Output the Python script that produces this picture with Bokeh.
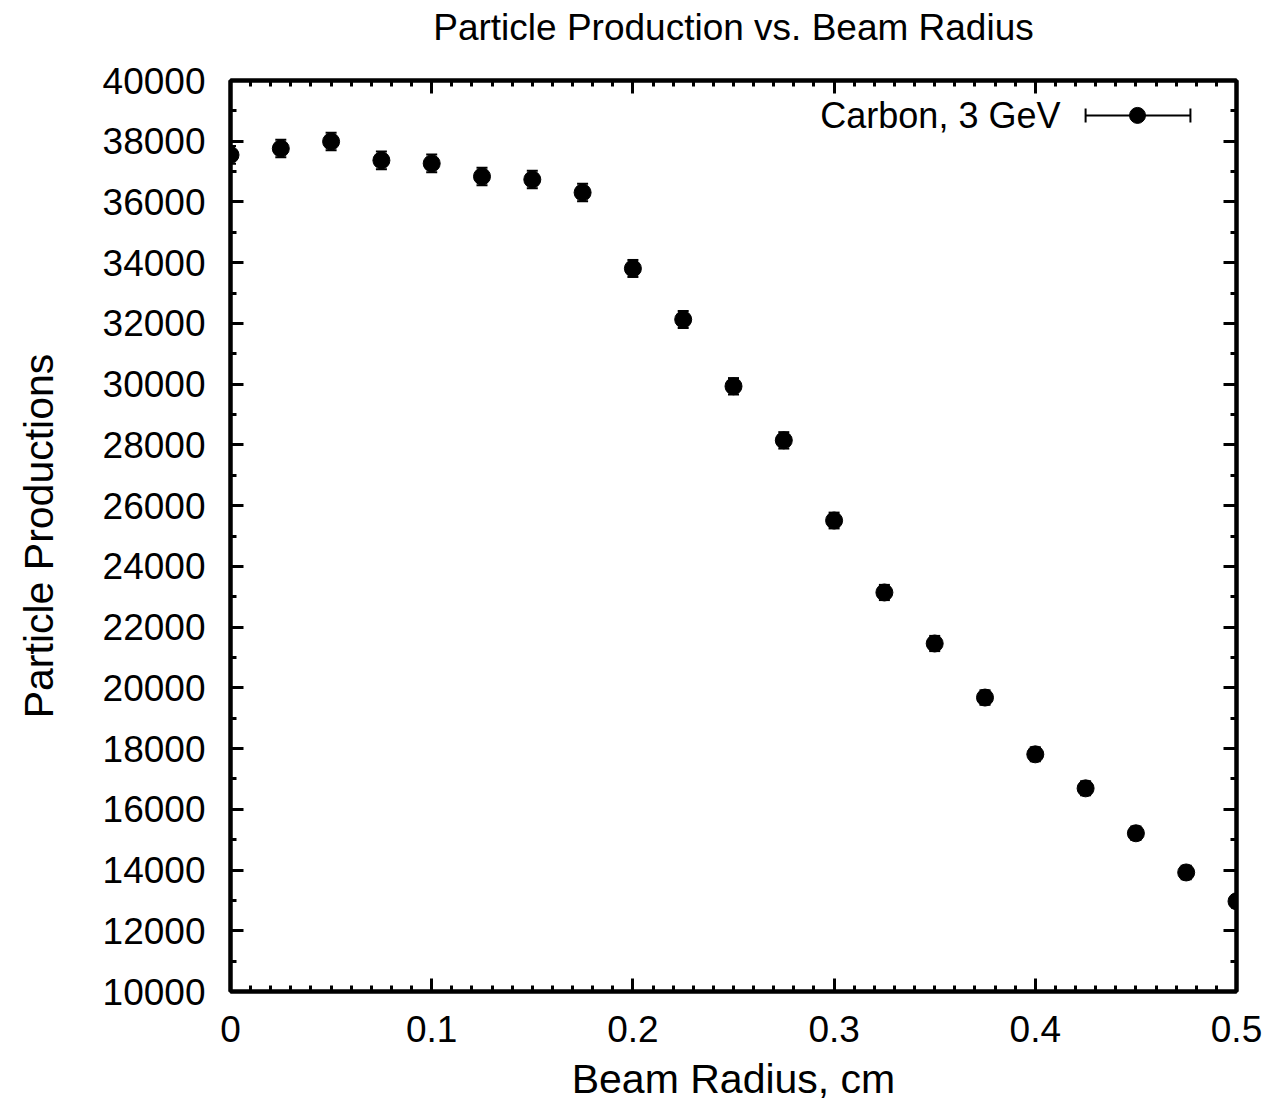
from bokeh.plotting import figure
from bokeh.models import (FixedTicker, LinearAxis, Whisker, TeeHead, ColumnDataSource,
                          Range1d, Label, CustomLabelingPolicy)
from bokeh.embed import file_html
from bokeh.resources import INLINE

# ---- data ----
radius = [0.0, 0.025, 0.05, 0.075, 0.1, 0.125, 0.15, 0.175, 0.2, 0.225, 0.25,
          0.275, 0.3, 0.325, 0.35, 0.375, 0.4, 0.425, 0.45, 0.475, 0.5]
production = [37550, 37760, 37990, 37370, 37270, 36840, 36740, 36310, 33810, 32130, 29930,
              28150, 25510, 23140, 21460, 19680, 17810, 16690, 15210, 13920, 12970]
error = [290, 290, 290, 290, 290, 290, 290, 290, 280, 280, 270,
         270, 260, 250, 250, 240, 230, 230, 220, 220, 210]

x_ticks = [0.0, 0.1, 0.2, 0.3, 0.4, 0.5]
x_tick_labels = ["0", "0.1", "0.2", "0.3", "0.4", "0.5"]
x_minor = [0.01, 0.02, 0.03, 0.04, 0.05, 0.06, 0.07, 0.08, 0.09,
           0.11, 0.12, 0.13, 0.14, 0.15, 0.16, 0.17, 0.18, 0.19,
           0.21, 0.22, 0.23, 0.24, 0.25, 0.26, 0.27, 0.28, 0.29,
           0.31, 0.32, 0.33, 0.34, 0.35, 0.36, 0.37, 0.38, 0.39,
           0.41, 0.42, 0.43, 0.44, 0.45, 0.46, 0.47, 0.48, 0.49]
y_ticks = [10000, 12000, 14000, 16000, 18000, 20000, 22000, 24000, 26000, 28000,
           30000, 32000, 34000, 36000, 38000, 40000]
y_tick_labels = [str(v) for v in y_ticks]
y_minor = [11000, 13000, 15000, 17000, 19000, 21000, 23000, 25000, 27000, 29000,
           31000, 33000, 35000, 37000, 39000]

legend_label = "Carbon, 3 GeV"
legend_y = 38850
legend_text_x = 0.4125
legend_bar = [0.425, 0.4771]
legend_dot_x = 0.4508

FONT = "Liberation Sans"

src = ColumnDataSource(dict(
    x=radius, y=production,
    lower=[p - e for p, e in zip(production, error)],
    upper=[p + e for p, e in zip(production, error)],
))

p = figure(x_range=Range1d(0, 0.5), y_range=Range1d(10000, 40000),
           frame_width=1006, frame_height=911,
           min_border_left=230, min_border_top=80, min_border_right=20, min_border_bottom=10,
           output_backend="svg", toolbar_location=None,
           title="Particle Production vs. Beam Radius",
           x_axis_label="Beam Radius, cm", y_axis_label="Particle Productions")

p.background_fill_color = "white"
p.border_fill_color = "white"
p.grid.visible = False
p.outline_line_color = "black"
p.outline_line_width = 4

p.title.align = "center"
p.title.text_font = FONT
p.title.text_font_size = "37px"
p.title.text_font_style = "normal"
p.title.text_color = "black"
p.title.offset = 0
p.title.standoff = 8

no_labels = CustomLabelingPolicy(code="""
    for (const i of Array.from(indices)) { indices.unset(i) }
    return indices
""")

def style_axis(ax):
    ax.axis_line_width = 4
    ax.axis_line_color = "black"
    ax.major_tick_in = 13
    ax.major_tick_out = 0
    ax.minor_tick_in = 6
    ax.minor_tick_out = 0
    ax.major_tick_line_width = 3
    ax.minor_tick_line_width = 3
    ax.major_tick_line_color = "black"
    ax.minor_tick_line_color = "black"
    ax.major_label_text_font = FONT
    ax.major_label_text_font_size = "37px"
    ax.major_label_text_color = "black"
    ax.axis_label_text_font = FONT
    ax.axis_label_text_font_size = "41px"
    ax.axis_label_text_font_style = "normal"
    ax.axis_label_text_color = "black"

xt = FixedTicker(ticks=x_ticks, minor_ticks=x_minor)
yt = FixedTicker(ticks=y_ticks, minor_ticks=y_minor)

xa = p.xaxis[0]
ya = p.yaxis[0]
style_axis(xa)
style_axis(ya)
xa.ticker = xt
ya.ticker = yt
xa.major_label_overrides = {t: l for t, l in zip(x_ticks, x_tick_labels)}
ya.major_label_overrides = {t: l for t, l in zip(y_ticks, y_tick_labels)}
xa.major_label_standoff = 24
xa.axis_label_standoff = 11
ya.major_label_standoff = 25
ya.axis_label_standoff = 38

top = LinearAxis(ticker=xt, major_label_policy=no_labels)
right = LinearAxis(ticker=yt, major_label_policy=no_labels)
style_axis(top)
style_axis(right)
top.major_label_standoff = 0
right.major_label_standoff = 0
p.add_layout(top, "above")
p.add_layout(right, "right")

# error bars
p.add_layout(Whisker(source=src, base="x", lower="lower", upper="upper", dimension="height",
                     line_color="black", line_width=2,
                     upper_head=TeeHead(size=11, line_width=2, line_color="black"),
                     lower_head=TeeHead(size=11, line_width=2, line_color="black")))
p.scatter("x", "y", source=src, size=17, color="black")

# legend (gnuplot style)
lsrc = ColumnDataSource(dict(base=[legend_y], lower=[legend_bar[0]], upper=[legend_bar[1]],
                             dx=[legend_dot_x]))
p.add_layout(Whisker(source=lsrc, base="base", lower="lower", upper="upper", dimension="width",
                     line_color="black", line_width=2,
                     upper_head=TeeHead(size=14, line_width=2, line_color="black"),
                     lower_head=TeeHead(size=14, line_width=2, line_color="black")))
p.scatter("dx", "base", source=lsrc, size=16, color="black")
p.add_layout(Label(x=legend_text_x, y=legend_y, text=legend_label, text_align="right",
                   text_baseline="middle", text_font=FONT, text_font_size="36px",
                   text_color="black"))

open("out.html", "w").write(file_html(p, INLINE))
